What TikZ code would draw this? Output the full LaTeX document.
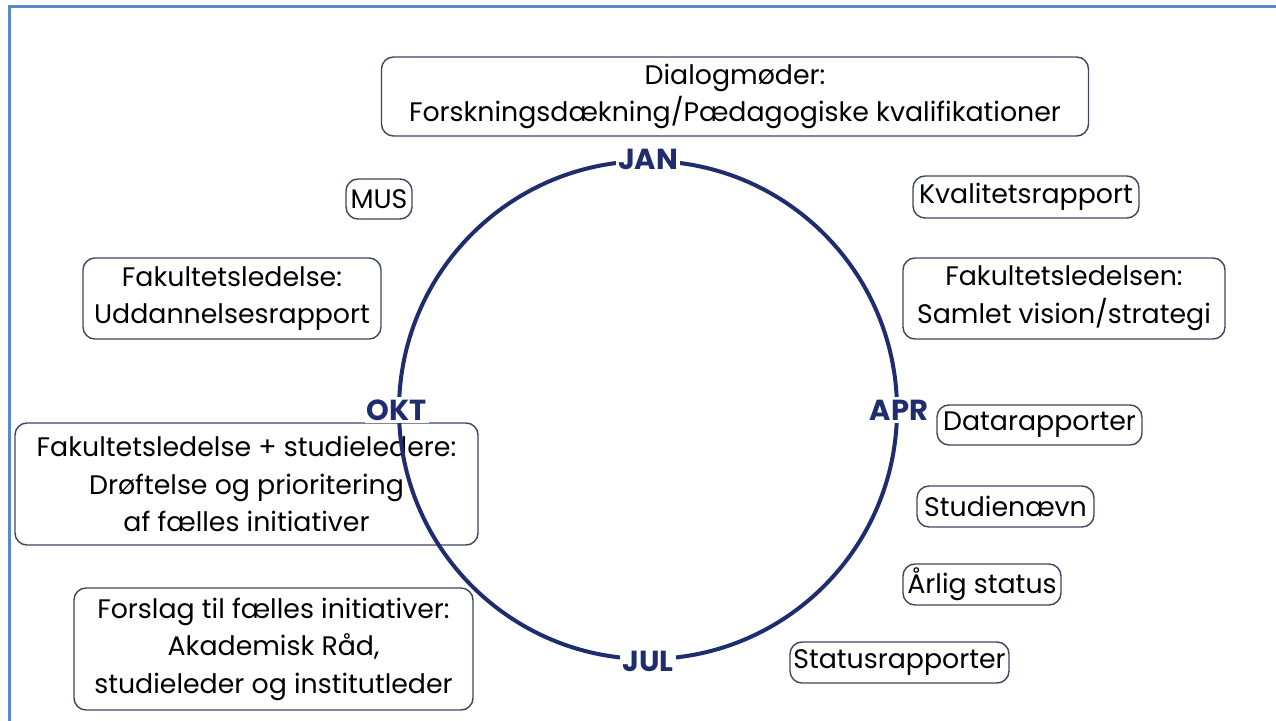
\documentclass[tikz,border=0pt]{standalone}
\usepackage{fontspec}
\setmainfont{Poppins}
\definecolor{navy}{HTML}{1F2C6E}
\definecolor{boxline}{HTML}{3D4660}
\definecolor{framecol}{HTML}{5A8AC6}
\begin{document}
\begin{tikzpicture}[x=0.5pt,y=-0.5pt,
	box/.style={draw=boxline,line width=0.7pt,rounded corners=6pt,align=center,inner sep=0pt,font=\fontsize{13.4}{18.8}\selectfont},
	month/.style={fill=white,text=navy,inner sep=1.2pt,font=\fontsize{14.5}{14.5}\selectfont\bfseries}]

	\useasboundingbox (0,0) rectangle (1276,721);

	%page frame
	\draw[framecol, line width=1.5pt] (9,721) -- (9,7) -- (1276,7);

	%boxes
	\node[box, minimum width=353.5pt, minimum height=39.5pt] (dialog) at (735,96.5) {Dialogmøder:\\Forskningsdækning/Pædagogiske kvalifikationer};
	\node[box, minimum width=33pt, minimum height=20pt] (mus) at (379,199) {MUS};
	\node[box, minimum width=113pt, minimum height=21pt] (kval) at (1026,197) {Kvalitetsrapport};
	\node[box, minimum width=149pt, minimum height=40.5pt] (fakudd) at (232,298.5) {Fakultetsledelse:\\Uddannelsesrapport};
	\node[box, minimum width=161pt, minimum height=40.5pt] (faksam) at (1064,298.5) {Fakultetsledelsen:\\Samlet vision/strategi};
	\node[box, minimum width=102.5pt, minimum height=20pt] (data) at (1039.5,425) {Datarapporter};
	\node[box, minimum width=231.5pt, minimum height=61pt] (fakstud) at (246.5,484) {Fakultetsledelse + studieledere:\\Drøftelse og prioritering\\af fælles initiativer};
	\node[box, minimum width=88.5pt, minimum height=20.5pt] (studn) at (1005.5,506.5) {Studienævn};
	\node[box, minimum width=79pt, minimum height=20.5pt] (aarlig) at (982,584.5) {Årlig status};
	\node[box, minimum width=199.5pt, minimum height=61pt] (forslag) at (273.5,649) {Forslag til fælles initiativer:\\Akademisk Råd,\\studieleder og institutleder};
	\node[box, minimum width=109.5pt, minimum height=20.5pt] (status) at (899.5,662.5) {Statusrapporter};

	%year wheel
	\node[circle, draw=navy, line width=2pt, minimum size=249pt, inner sep=0pt] (wheel) at (648,410) {};
	\node[month] (jan) at (wheel.north) {JAN};
	\node[month] (apr) at (wheel.east) {APR};
	\node[month] (jul) at (wheel.south) {JUL};
	\node[month] (okt) at (wheel.west) {OKT};

\end{tikzpicture}
\end{document}
